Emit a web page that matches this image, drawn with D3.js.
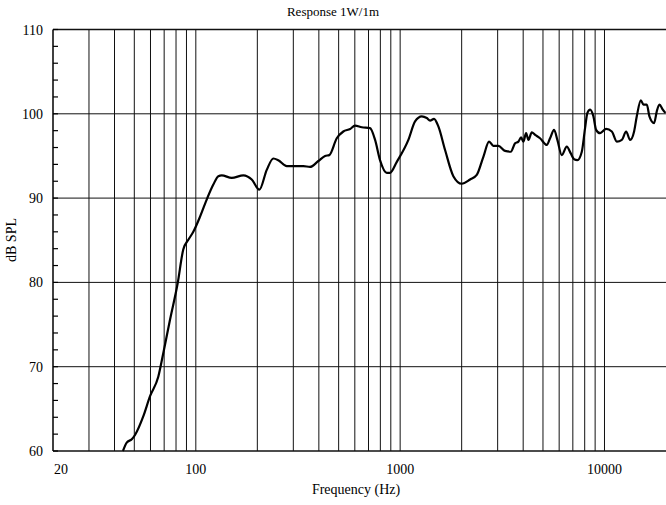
<!DOCTYPE html>
<html>
<head>
<meta charset="utf-8">
<script src="https://cdn.jsdelivr.net/npm/d3@7"></script>
<style>
body { margin: 0; background: #fff; }
text { font-family: "Liberation Serif", "Times New Roman", serif; fill: #000; }
</style>
</head>
<body>
<svg></svg>
<script>
// response curve
var freq = [44, 45.9, 48.6, 50.4, 55.3, 59.7, 65.5, 69.3, 74.8, 81.5, 86.8, 91.9, 97.2, 104.9, 113.8, 121.8, 128.9, 133.9, 149.9, 170.9, 187.8, 204.6, 222.4, 239.6, 253.4, 278.6, 311.8, 336, 362, 397.8, 429, 450, 489.5, 527, 569, 601, 649, 712, 754, 797, 860, 892, 963, 1097, 1183, 1276, 1350, 1401, 1465, 1538, 1659, 1821, 2002, 2199, 2371, 2554, 2724, 2859, 3024, 3262, 3479, 3651, 3790, 3908, 4009, 4134, 4243, 4408, 4576, 4838, 5220, 5416, 5666, 5880, 6180, 6538, 6839, 7099, 7368, 7743, 8035, 8248, 8502, 8823, 9098, 9516, 10180, 10860, 11490, 12160, 12760, 13350, 13960, 14390, 15060, 15500, 16110, 16590, 17490, 18030, 18570, 19290, 19870];
var spl = [60, 61.0, 61.4, 61.9, 64.1, 66.5, 68.8, 71.6, 75.6, 79.9, 83.9, 85.05, 86.0, 87.8, 90.0, 91.6, 92.6, 92.7, 92.4, 92.7, 92.2, 91.0, 93.35, 94.7, 94.5, 93.8, 93.8, 93.8, 93.7, 94.4, 95.0, 95.1, 97.1, 97.9, 98.2, 98.6, 98.4, 98.3, 96.9, 94.5, 93.0, 93.0, 94.3, 96.9, 99.1, 99.7, 99.5, 99.2, 99.4, 98.5, 95.7, 92.6, 91.7, 92.2, 92.75, 94.9, 96.7, 96.2, 96.2, 95.6, 95.5, 96.5, 96.7, 97.2, 96.7, 97.7, 96.9, 97.8, 97.5, 97.1, 96.3, 97.1, 98.1, 96.9, 95.1, 96.1, 95.3, 94.6, 94.5, 95.5, 98.3, 100.1, 100.5, 99.7, 98.1, 97.7, 98.2, 97.9, 96.7, 96.9, 97.9, 96.9, 97.9, 99.7, 101.6, 101.1, 101.1, 99.7, 98.9, 100.3, 101.1, 100.5, 100.1];

var yTicks = [60, 70, 80, 90, 100, 110];
var xTickLabels = [20, 100, 1000, 10000];

var width = 666, height = 505;
var margin = {top: 29.5, right: 0, bottom: 54, left: 53};

var svg = d3.select('svg')
    .attr('width', width)
    .attr('height', height);

var x = d3.scaleLog()
    .domain([20, 20000])
    .range([margin.left, width - margin.right]);

var y = d3.scaleLinear()
    .domain([60, 110])
    .range([height - margin.bottom, margin.top]);

// vertical grid: 30..90, 100..900, ...
var gridF = x.ticks().filter(function(d) { return d > 20 && d < 20000; });
svg.append('g').selectAll('line')
    .data(gridF)
    .enter()
    .append('line')
    .attr('x1', function(d) { return x(d); })
    .attr('x2', function(d) { return x(d); })
    .attr('y1', y(60))
    .attr('y2', y(110))
    .attr('stroke', '#111')
    .attr('stroke-width', 1);

// horizontal grid
svg.append('g').selectAll('line')
    .data(yTicks)
    .enter()
    .append('line')
    .attr('x1', x(20))
    .attr('x2', x(20000))
    .attr('y1', function(d) { return y(d); })
    .attr('y2', function(d) { return y(d); })
    .attr('stroke', '#111')
    .attr('stroke-width', function(d) { return (d == 60 || d == 110) ? 1.5 : 1; });

// left axis with small inward ticks
svg.append('line')
    .attr('x1', x(20)).attr('x2', x(20))
    .attr('y1', y(60)).attr('y2', y(110))
    .attr('stroke', '#000').attr('stroke-width', 1.5);

svg.append('g').selectAll('line')
    .data(d3.range(60, 111, 2))
    .enter()
    .append('line')
    .attr('x1', x(20))
    .attr('x2', x(20) + 5)
    .attr('y1', function(d) { return y(d); })
    .attr('y2', function(d) { return y(d); })
    .attr('stroke', '#000')
    .attr('stroke-width', 1.2);

svg.append('g').selectAll('text')
    .data(yTicks)
    .enter()
    .append('text')
    .attr('x', x(20) - 10)
    .attr('y', function(d) { return y(d) + 5; })
    .attr('text-anchor', 'end')
    .style('font-size', '14px')
    .text(function(d) { return d; });

svg.append('g').selectAll('text')
    .data(xTickLabels)
    .enter()
    .append('text')
    .attr('x', function(d) { return d == 20 ? x(d) + 1 : x(d); })
    .attr('y', y(60) + 23)
    .attr('text-anchor', function(d) { return d == 20 ? 'start' : 'middle'; })
    .style('font-size', '14px')
    .text(function(d) { return d; });

// response line
var line = d3.line()
    .x(function(d, i) { return x(freq[i]); })
    .y(function(d) { return y(d); })
    .curve(d3.curveMonotoneX);

svg.append('path')
    .datum(spl)
    .attr('d', line)
    .attr('fill', 'none')
    .attr('stroke', '#000')
    .attr('stroke-width', 2.2)
    .attr('stroke-linejoin', 'round');

svg.append('text')
    .attr('x', 333)
    .attr('y', 16)
    .attr('text-anchor', 'middle')
    .style('font-size', '13px')
    .text('Response 1W/1m');

svg.append('text')
    .attr('x', 356)
    .attr('y', 494)
    .attr('text-anchor', 'middle')
    .style('font-size', '14px')
    .text('Frequency (Hz)');

svg.append('text')
    .attr('transform', 'translate(16,240) rotate(-90)')
    .attr('text-anchor', 'middle')
    .style('font-size', '14px')
    .text('dB SPL');
</script>
</body>
</html>
